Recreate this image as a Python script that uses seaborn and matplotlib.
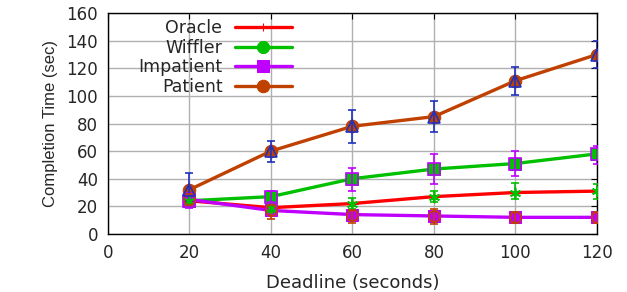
import pandas as pd
import matplotlib
matplotlib.use('Agg')
import matplotlib.pyplot as plt
import seaborn as sns

# deadlines and completion times
deadline = [20, 40, 60, 80, 100, 120]

oracle = [24, 19, 22, 27, 30, 31]
oracle_lo = [21, 16, 18, 23, 25, 25]
oracle_hi = [28, 22, 26, 31, 37, 36]

wiffler = [24, 27, 40, 47, 51, 58]
wiffler_lo = [19, 23, 31, 36, 42, 51]
wiffler_hi = [30, 31, 48, 58, 60, 64]

impatient = [25, 17, 14, 13, 12, 12]
impatient_lo = [20, 11, 8, 7, 8, 8]
impatient_hi = [29, 21, 17, 18, 16, 16]

patient = [32, 60, 78, 85, 111, 130]
patient_lo = [24, 52, 66, 74, 101, 120]
patient_hi = [44, 67, 90, 96, 121, 140]

sns.set_style('white')
plt.rcParams['font.family'] = ['DejaVu Sans']

fig = plt.figure(figsize=(6.27, 2.92), dpi=100)
ax = fig.add_axes([0.172, 0.199, 0.780, 0.756])

# (name, values, lo, hi, line colour, line marker, errbar colour, errbar marker)
series = [
    ('Oracle', oracle, oracle_lo, oracle_hi, '#ff0000', '+', '#00c000', (6, 2, 0)),
    ('Wiffler', wiffler, wiffler_lo, wiffler_hi, '#00c000', 's', '#c000ff', 's'),
    ('Impatient', impatient, impatient_lo, impatient_hi, '#c000ff', 's', '#c04000', 'o'),
    ('Patient', patient, patient_lo, patient_hi, '#c04000', 'o', '#2030c0', '^'),
]

for name, vals, lo, hi, col, mk, ecol, emk in series:
    df = pd.DataFrame({'Deadline': deadline, 'Time': vals})
    sns.lineplot(data=df, x='Deadline', y='Time', ax=ax, color=col, lw=2.4,
                 marker=mk, markersize=9, markeredgecolor=col, label=name, zorder=3)

for name, vals, lo, hi, col, mk, ecol, emk in series:
    yerr = [[v - l for v, l in zip(vals, lo)], [h - v for v, h in zip(vals, hi)]]
    ax.errorbar(deadline, vals, yerr=yerr, fmt='none', ecolor=ecol, elinewidth=1.2,
                capsize=3, capthick=1.2, zorder=4)
    ax.plot(deadline, vals, ls='none', marker=emk, markersize=8, mfc='none',
            mec=ecol, mew=1.2, zorder=5)

ax.set_xlim(0, 120)
ax.set_ylim(0, 160)
ax.set_xticks(range(0, 121, 20))
ax.set_yticks(range(0, 161, 20))
ax.grid(True, color='#b0b0b0', lw=1)
ax.tick_params(direction='in', length=4, top=True, right=True, labelsize=12,
               color='black', pad=7)
for sp in ax.spines.values():
    sp.set_color('black')
    sp.set_linewidth(1)
ax.set_xlabel('Deadline (seconds)', fontsize=13, labelpad=9)
ax.set_ylabel('Completion Time (sec)', fontsize=12, labelpad=6,
              family='Liberation Sans')

leg = ax.legend(loc='upper left', bbox_to_anchor=(0.048, 1.005), frameon=False,
                markerfirst=False, fontsize=12.5, handlelength=3.3, handletextpad=0.7,
                labelspacing=0.1, borderaxespad=0.0)
for col in leg._legend_handle_box.get_children():
    col.align = 'right'
leg.legend_handles[0].set_markersize(6)
leg.legend_handles[1].set_marker((8, 2, 0))
leg.legend_handles[1].set_markeredgewidth(3)

fig.savefig('out.png', dpi=100)
